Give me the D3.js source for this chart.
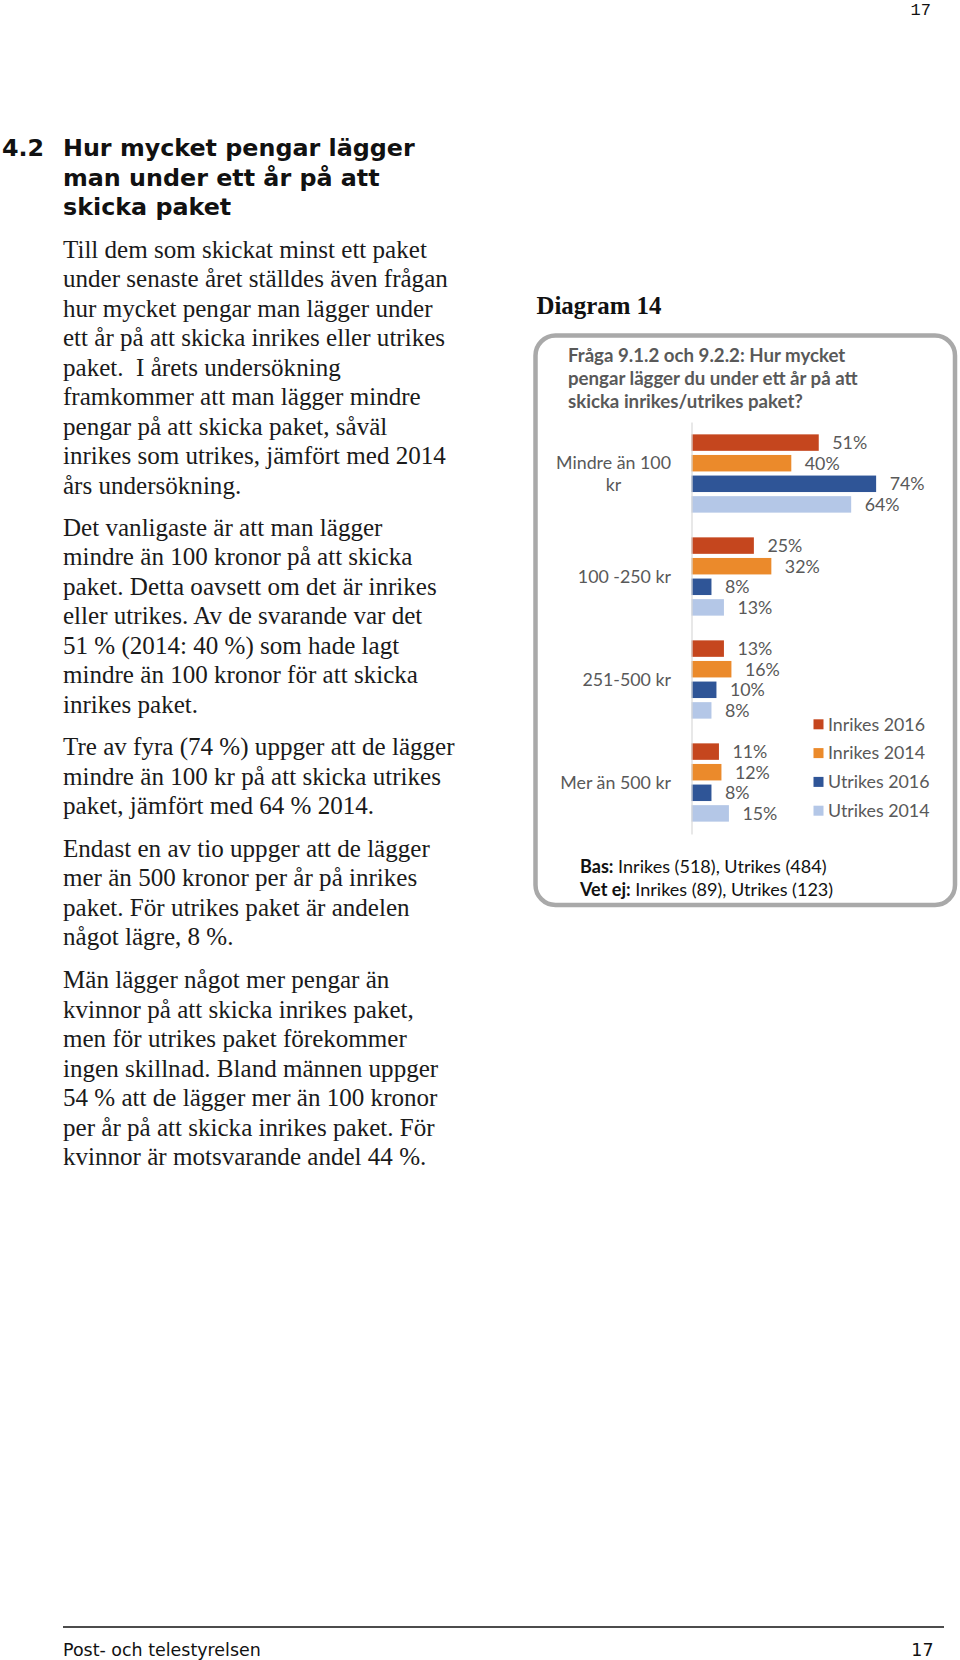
<!DOCTYPE html>
<html><head><meta charset="utf-8">
<script src="https://cdn.jsdelivr.net/npm/d3@7"></script>
<style>html,body{margin:0;padding:0;background:#fff}</style>
</head><body>
<svg id="page" width="960" height="1660" xmlns="http://www.w3.org/2000/svg"></svg>
<script>
// ---------- data ----------
const categories = ["Mindre än 100 kr", "100 -250 kr", "251-500 kr", "Mer än 500 kr"];
const seriesNames = ["Inrikes 2016", "Inrikes 2014", "Utrikes 2016", "Utrikes 2014"];
const inrikes2016 = [51, 25, 13, 11];
const inrikes2014 = [40, 32, 16, 12];
const utrikes2016 = [74, 8, 10, 8];
const utrikes2014 = [64, 13, 8, 15];
const seriesColors = ["#C5461E", "#EB8A2B", "#2F5597", "#B4C7E7"];

const chartTitleLines = ["Fråga 9.1.2 och 9.2.2: Hur mycket", "pengar lägger du under ett år på att", "skicka inrikes/utrikes paket?"];
const noteLines = [["Bas:", " Inrikes (518), Utrikes (484)"], ["Vet ej:", " Inrikes (89), Utrikes (123)"]];
const headingNumber = "4.2";
const headingLines = ["Hur mycket pengar lägger", "man under ett år på att", "skicka paket"];
const paragraphs = [
  ["Till dem som skickat minst ett paket", "under senaste året ställdes även frågan", "hur mycket pengar man lägger under", "ett år på att skicka inrikes eller utrikes", "paket.  I årets undersökning", "framkommer att man lägger mindre", "pengar på att skicka paket, såväl", "inrikes som utrikes, jämfört med 2014", "års undersökning."],
  ["Det vanligaste är att man lägger", "mindre än 100 kronor på att skicka", "paket. Detta oavsett om det är inrikes", "eller utrikes. Av de svarande var det", "51 % (2014: 40 %) som hade lagt", "mindre än 100 kronor för att skicka", "inrikes paket."],
  ["Tre av fyra (74 %) uppger att de lägger", "mindre än 100 kr på att skicka utrikes", "paket, jämfört med 64 % 2014."],
  ["Endast en av tio uppger att de lägger", "mer än 500 kronor per år på inrikes", "paket. För utrikes paket är andelen", "något lägre, 8 %."],
  ["Män lägger något mer pengar än", "kvinnor på att skicka inrikes paket,", "men för utrikes paket förekommer", "ingen skillnad. Bland männen uppger", "54 % att de lägger mer än 100 kronor", "per år på att skicka inrikes paket. För", "kvinnor är motsvarande andel 44 %."]
];
const diagramLabel = "Diagram 14";
const pageNumber = "17";
const footerText = "Post- och telestyrelsen";

// ---------- helpers ----------
const svg = d3.select("#page");
svg.append("rect").attr("width", 960).attr("height", 1660).attr("fill", "#fff");

function fitSize(text, family, weight, baseSize, target) {
  const t = svg.append("text").attr("font-family", family).attr("font-weight", weight)
    .attr("font-size", baseSize).text(text);
  const w = t.node().getComputedTextLength();
  t.remove();
  return baseSize * target / w;
}
function measure(text, family, weight, size) {
  const t = svg.append("text").attr("font-family", family).attr("font-weight", weight)
    .attr("font-size", size).text(text);
  const w = t.node().getComputedTextLength();
  t.remove();
  return w;
}

const serif = "'Liberation Serif', 'DejaVu Serif', serif";
const headFont = "'DejaVu Sans', Verdana, sans-serif";
const chartFont = "Lato, 'Open Sans', sans-serif";

// ---------- page number ----------
svg.append("text").attr("x", 931).attr("y", 14.5).attr("text-anchor", "end")
  .attr("font-family", "'Liberation Mono', 'DejaVu Sans Mono', monospace").attr("font-size", 17)
  .attr("fill", "#111").text(pageNumber);

// ---------- heading ----------
const hSize = fitSize(headingLines[0], headFont, "bold", 20, 352);
svg.append("text").attr("x", 2).attr("y", 156).attr("font-family", headFont).attr("font-weight", "bold")
  .attr("font-size", hSize).attr("fill", "#111").text(headingNumber);
svg.append("g").selectAll("text").data(headingLines).join("text")
  .attr("x", 63).attr("y", (d, i) => 156 + i * 29.5)
  .attr("font-family", headFont).attr("font-weight", "bold").attr("font-size", hSize)
  .attr("fill", "#111").text(d => d);

// ---------- body paragraphs ----------
const bodySize = fitSize("under senaste året ställdes även frågan", serif, "normal", 21, 385);
const paraStarts = [257.7, 535.7, 755, 856.7, 988.3];
const bodyG = svg.append("g");
paragraphs.forEach((lines, p) => {
  bodyG.append("g").selectAll("text").data(lines).join("text")
    .attr("x", 63).attr("y", (d, i) => paraStarts[p] + i * 29.5)
    .attr("font-family", serif).attr("font-size", bodySize).attr("fill", "#1a1a1a")
    .style("white-space", "pre").text(d => d);
});

// ---------- diagram label ----------
const dSize = fitSize(diagramLabel, serif, "bold", 24, 125);
svg.append("text").attr("x", 536.5).attr("y", 313.5).attr("font-family", serif).attr("font-weight", "bold")
  .attr("font-size", dSize).attr("fill", "#111").text(diagramLabel);

// ---------- chart box ----------
svg.append("rect").attr("x", 535.5).attr("y", 335.5).attr("width", 419.5).attr("height", 569.5)
  .attr("rx", 20).attr("ry", 20).attr("fill", "#fff").attr("stroke", "#a9a9a9").attr("stroke-width", 4.5);

const tSize = fitSize(chartTitleLines[1], chartFont, "bold", 17, 290);
svg.append("g").selectAll("text").data(chartTitleLines).join("text")
  .attr("x", 568).attr("y", (d, i) => 362 + i * 23)
  .attr("font-family", chartFont).attr("font-weight", "bold").attr("font-size", tSize)
  .attr("fill", "#595959").text(d => d);

// ---------- bar chart ----------
const labelSize = fitSize("Mindre än 100", chartFont, "normal", 19, 115);
const values = [inrikes2016, inrikes2014, utrikes2016, utrikes2014];
const rows = categories.map((c, ci) => ({cat: c, vals: seriesNames.map((s, si) => ({series: s, si, v: values[si][ci]}))}));

const x = d3.scaleLinear().domain([0, 100]).range([691.5, 941]);
const y0 = d3.scaleBand().domain(categories).range([422, 834]).paddingInner(0.2).paddingOuter(0.1);
const y1 = d3.scaleBand().domain(seriesNames).range([0, y0.bandwidth()]).paddingInner(0.2).paddingOuter(0.1);
const color = d3.scaleOrdinal().domain(seriesNames).range(seriesColors);

const plot = svg.append("g");
const groups = plot.selectAll("g.grp").data(rows).join("g").attr("class", "grp")
  .attr("transform", d => `translate(0,${y0(d.cat)})`);
groups.selectAll("rect").data(d => d.vals).join("rect")
  .attr("x", x(0)).attr("y", d => y1(d.series))
  .attr("width", d => x(d.v) - x(0)).attr("height", y1.bandwidth())
  .attr("fill", d => color(d.series));
groups.selectAll("text").data(d => d.vals).join("text")
  .attr("x", d => x(d.v) + 13.5).attr("y", d => y1(d.series) + y1.bandwidth() / 2)
  .attr("dy", "0.37em").attr("font-family", chartFont).attr("font-size", labelSize)
  .attr("fill", "#595959").text(d => d.v + "%");

// axis (vertical category line)
const axis = plot.append("g").attr("transform", `translate(${x(0)},0)`)
  .call(d3.axisLeft(y0).tickSize(0).tickSizeOuter(0).tickFormat(() => ""));
axis.select(".domain").attr("stroke", "#d9d9d9").attr("stroke-width", 1.2);
axis.selectAll(".tick").remove();

// category labels with wrapping
const catRight = 671;
rows.forEach(r => {
  const words = r.cat.split(" ");
  const lines = [];
  let cur = "";
  words.forEach(w => {
    const test = cur ? cur + " " + w : w;
    if (cur && measure(test, chartFont, "normal", labelSize) > 122) { lines.push(cur); cur = w; }
    else cur = test;
  });
  lines.push(cur);
  const widths = lines.map(l => measure(l, chartFont, "normal", labelSize));
  const W = d3.max(widths);
  const cy = y0(r.cat) + y0.bandwidth() / 2;
  const lh = 22;
  plot.append("g").selectAll("text").data(lines).join("text")
    .attr("x", catRight - W / 2).attr("text-anchor", "middle")
    .attr("y", (d, i) => cy + (i - (lines.length - 1) / 2) * lh)
    .attr("dy", "0.37em").attr("font-family", chartFont).attr("font-size", labelSize)
    .attr("fill", "#595959").text(d => d);
});

// legend
const legend = svg.append("g").selectAll("g").data(seriesNames).join("g")
  .attr("transform", (d, i) => `translate(813.5,${724.3 + i * 28.8})`);
legend.append("rect").attr("x", 0).attr("y", -5).attr("width", 10).attr("height", 10)
  .attr("fill", d => color(d));
legend.append("text").attr("x", 14.5).attr("y", 0).attr("dy", "0.35em")
  .attr("font-family", chartFont).attr("font-size", labelSize).attr("fill", "#595959").text(d => d);

// note
const nSize = fitSize(noteLines[0].join(""), chartFont, "normal", 17, 246);
noteLines.forEach((ln, i) => {
  const t = svg.append("text").attr("x", 580).attr("y", 873 + i * 23)
    .attr("font-family", chartFont).attr("font-size", nSize).attr("fill", "#111");
  t.append("tspan").attr("font-weight", "bold").text(ln[0]);
  t.append("tspan").style("white-space", "pre").text(ln[1]);
});

// ---------- footer ----------
svg.append("line").attr("x1", 63).attr("x2", 944).attr("y1", 1627).attr("y2", 1627)
  .attr("stroke", "#111").attr("stroke-width", 1.3);
const fSize = fitSize(footerText, headFont, "normal", 15, 198);
svg.append("text").attr("x", 63).attr("y", 1655.5).attr("font-family", headFont)
  .attr("font-size", fSize).attr("fill", "#111").text(footerText);
svg.append("text").attr("x", 933.5).attr("y", 1655.5).attr("text-anchor", "end").attr("font-family", headFont)
  .attr("font-size", fSize).attr("fill", "#111").text(pageNumber);
</script>
</body></html>
